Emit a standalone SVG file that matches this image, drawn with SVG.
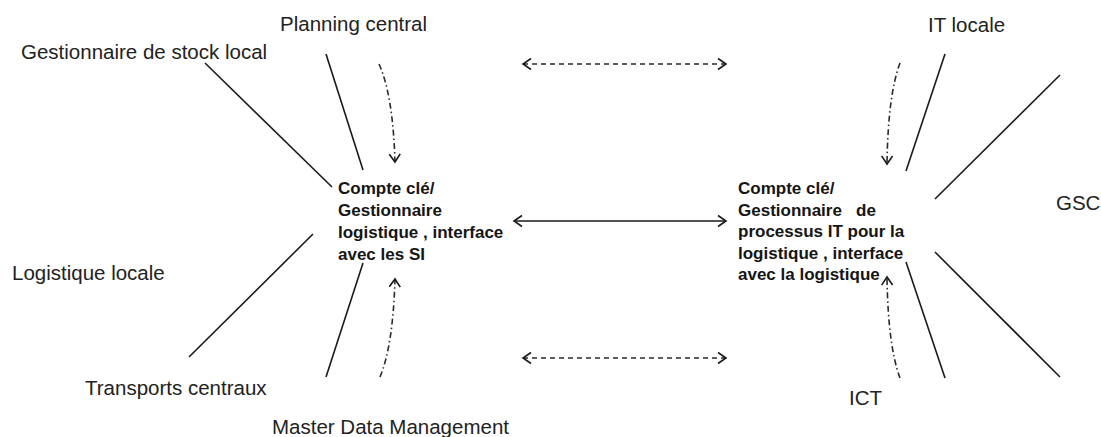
<svg xmlns="http://www.w3.org/2000/svg" width="1101" height="437" viewBox="0 0 1101 437">
<style>
.lbl{font-family:"Liberation Sans",Arial,sans-serif;font-size:20.5px;fill:#222}
.box{font-family:"Liberation Sans",Arial,sans-serif;font-size:17px;font-weight:bold;fill:#151515;white-space:pre}
.ln{stroke:#1a1a1a;stroke-width:1.6;fill:none}
.dash{stroke:#2a2a2a;stroke-width:1.6;fill:none;stroke-dasharray:5,4}
.dd{stroke:#2a2a2a;stroke-width:1.6;fill:none;stroke-dasharray:6,3,1.5,3}
</style>
<defs>
<marker id="ah" markerUnits="userSpaceOnUse" markerWidth="14" markerHeight="14" viewBox="-10 -7 12 14" refX="0" refY="0" orient="auto-start-reverse">
<path d="M-8,-5.5 L0,0 L-8,5.5" fill="none" stroke="#1a1a1a" stroke-width="1.6"/>
</marker>
</defs>
<rect width="1101" height="437" fill="#fff"/>
<g id="connectors">
<line class="ln" x1="205" y1="63" x2="332" y2="187"/>
<line class="ln" x1="326" y1="54" x2="363" y2="170"/>
<line class="ln" x1="313" y1="234" x2="189" y2="357"/>
<line class="ln" x1="363" y1="263" x2="326" y2="377"/>
<path class="dd" d="M379,64 Q393,95 395,162" marker-end="url(#ah)"/>
<path class="dd" d="M380,377 Q393,346 395,279" marker-end="url(#ah)"/>
<line class="dash" x1="523" y1="64" x2="726" y2="64" marker-start="url(#ah)" marker-end="url(#ah)"/>
<line class="ln" x1="514" y1="221" x2="726" y2="221" marker-start="url(#ah)" marker-end="url(#ah)"/>
<line class="dash" x1="523" y1="358" x2="726" y2="358" marker-start="url(#ah)" marker-end="url(#ah)"/>
<line class="ln" x1="945" y1="54" x2="906" y2="171"/>
<line class="ln" x1="1060" y1="75" x2="935" y2="199"/>
<line class="ln" x1="935" y1="252" x2="1060" y2="377"/>
<line class="ln" x1="906" y1="262" x2="945" y2="378"/>
<path class="dd" d="M900,63 Q888,95 887,164" marker-end="url(#ah)"/>
<path class="dd" d="M900,378 Q888,346 887,277" marker-end="url(#ah)"/>
</g>
<g id="node-planning-central"><text class="lbl" x="280" y="31">Planning central</text></g>
<g id="node-gestionnaire-stock-local"><text class="lbl" x="21" y="59">Gestionnaire de stock local</text></g>
<g id="node-logistique-locale"><text class="lbl" x="12" y="280">Logistique locale</text></g>
<g id="node-transports-centraux"><text class="lbl" x="85" y="395">Transports centraux</text></g>
<g id="node-master-data"><text class="lbl" x="272" y="434">Master Data Management</text></g>
<g id="node-it-locale"><text class="lbl" x="928" y="32">IT locale</text></g>
<g id="node-gsc"><text class="lbl" x="1056" y="210">GSC</text></g>
<g id="node-ict"><text class="lbl" x="849" y="405">ICT</text></g>
<g id="node-compte-cle-logistique">
<text class="box" x="338" y="194">Compte clé/</text>
<text class="box" x="338" y="216">Gestionnaire</text>
<text class="box" x="338" y="238">logistique , interface</text>
<text class="box" x="338" y="260">avec les SI</text>
</g>
<g id="node-compte-cle-it">
<text class="box" x="738" y="194">Compte clé/</text>
<text class="box" x="738" y="215.5">Gestionnaire   de</text>
<text class="box" x="738" y="237">processus IT pour la</text>
<text class="box" x="738" y="258.5">logistique , interface</text>
<text class="box" x="738" y="280">avec la logistique</text>
</g>
</svg>
